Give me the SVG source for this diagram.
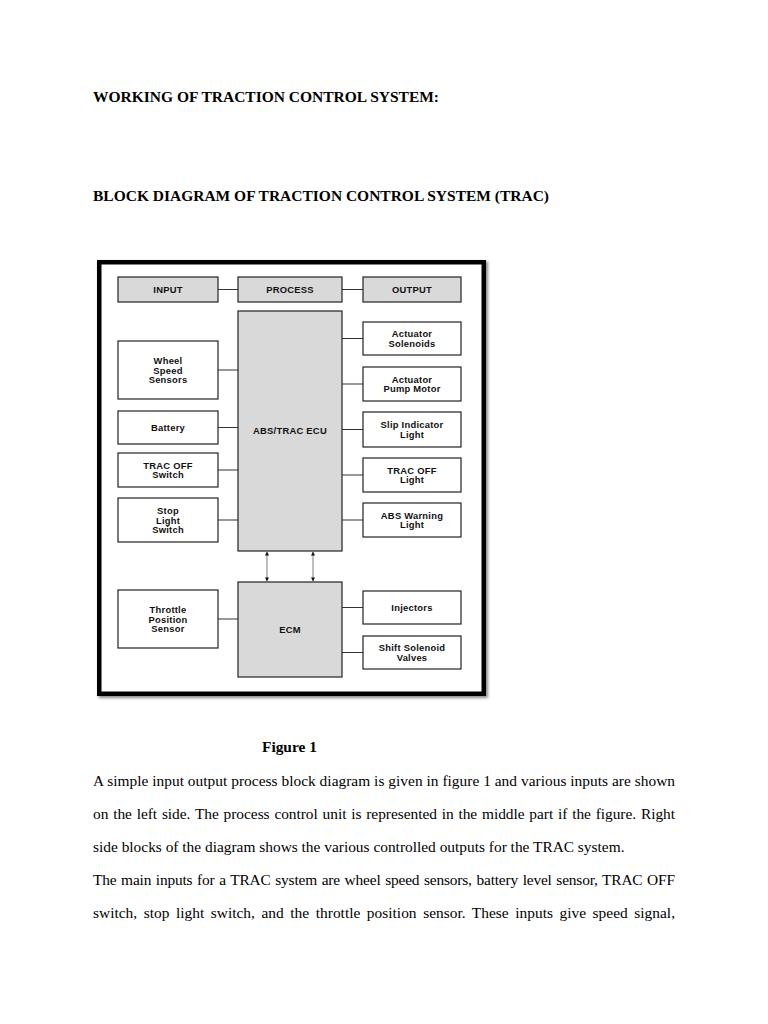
<svg xmlns="http://www.w3.org/2000/svg" width="768" height="1024" viewBox="0 0 768 1024">
<style>
  .page { font-family: "Liberation Serif", "Times New Roman", serif; font-size: 15.4px; fill: #000; }
  .bold { font-weight: bold; }
  .box { fill: #fff; stroke: #222; stroke-width: 1.2; }
  .gbox { fill: #d9d9d9; stroke: #222; stroke-width: 1.2; }
  .lbl { font-family: "Liberation Sans", Arial, sans-serif; font-size: 9.4px; letter-spacing: 0.25px; font-weight: bold; fill: #111; text-anchor: middle; }
  .conn { stroke: #333; stroke-width: 1.1; fill: none; }
  .arr { stroke: #888; stroke-width: 1.1; fill: none; marker-start: url(#ah); marker-end: url(#ah); }
</style>
<defs>
  <marker id="ah" viewBox="0 0 10 10" refX="9" refY="5" markerWidth="4" markerHeight="4" orient="auto-start-reverse" markerUnits="userSpaceOnUse">
    <path d="M0,0 L10,5 L0,10 z" fill="#111"/>
  </marker>
  <filter id="sh" x="-5%" y="-5%" width="110%" height="110%">
    <feGaussianBlur stdDeviation="1.5"/>
  </filter>
</defs>
<rect width="768" height="1024" fill="#fff"/>

<g id="headings" class="page bold">
  <text x="93" y="101.5" textLength="346" lengthAdjust="spacingAndGlyphs">WORKING OF TRACTION CONTROL SYSTEM:</text>
  <text x="93" y="201" textLength="456" lengthAdjust="spacingAndGlyphs">BLOCK DIAGRAM OF TRACTION CONTROL SYSTEM (TRAC)</text>
</g>

<g id="frame">
  <rect x="101" y="264" width="384.5" height="431.5" fill="none" stroke="#888" stroke-width="5" filter="url(#sh)"/>
  <rect x="99.25" y="262.25" width="384.5" height="431.5" fill="#fff" stroke="#000" stroke-width="4.5"/>
</g>

<g id="connectors">
  <path class="conn" d="M218 289.5H238M342 289.5H363"/>
  <path class="conn" d="M218 370H238M218 427.5H238M218 470H238M218 520H238M218 619H238"/>
  <path class="conn" d="M342 338.5H363M342 384H363M342 429.5H363M342 475H363M342 520H363M342 607.5H363M342 652.5H363"/>
  <path class="arr" d="M267 552V581"/>
  <path class="arr" d="M313 552V581"/>
</g>

<g id="input">
  <rect class="gbox" x="118" y="277" width="100" height="25"/>
  <text class="lbl" x="168" y="293">INPUT</text>
</g>
<g id="process">
  <rect class="gbox" x="238" y="277" width="104" height="25"/>
  <text class="lbl" x="290" y="293">PROCESS</text>
</g>
<g id="output">
  <rect class="gbox" x="363" y="277" width="98" height="25"/>
  <text class="lbl" x="412" y="293">OUTPUT</text>
</g>
<g id="abs-trac-ecu">
  <rect class="gbox" x="238" y="311" width="104" height="240"/>
  <text class="lbl" x="290" y="434">ABS/TRAC ECU</text>
</g>
<g id="ecm">
  <rect class="gbox" x="238" y="582" width="104" height="95"/>
  <text class="lbl" x="290" y="632.5">ECM</text>
</g>

<g id="wheel-speed-sensors">
  <rect class="box" x="118" y="341" width="100" height="58"/>
  <text class="lbl" x="168" y="364">Wheel</text>
  <text class="lbl" x="168" y="373.5">Speed</text>
  <text class="lbl" x="168" y="383">Sensors</text>
</g>
<g id="battery">
  <rect class="box" x="118" y="411" width="100" height="33"/>
  <text class="lbl" x="168" y="431">Battery</text>
</g>
<g id="trac-off-switch">
  <rect class="box" x="118" y="453" width="100" height="34"/>
  <text class="lbl" x="168" y="468.7">TRAC OFF</text>
  <text class="lbl" x="168" y="478.2">Switch</text>
</g>
<g id="stop-light-switch">
  <rect class="box" x="118" y="498" width="100" height="44"/>
  <text class="lbl" x="168" y="514">Stop</text>
  <text class="lbl" x="168" y="523.5">Light</text>
  <text class="lbl" x="168" y="533">Switch</text>
</g>
<g id="throttle-position-sensor">
  <rect class="box" x="118" y="590" width="100" height="58"/>
  <text class="lbl" x="168" y="613">Throttle</text>
  <text class="lbl" x="168" y="622.5">Position</text>
  <text class="lbl" x="168" y="632">Sensor</text>
</g>

<g id="actuator-solenoids">
  <rect class="box" x="363" y="322" width="98" height="33"/>
  <text class="lbl" x="412" y="337.2">Actuator</text>
  <text class="lbl" x="412" y="346.7">Solenoids</text>
</g>
<g id="actuator-pump-motor">
  <rect class="box" x="363" y="367" width="98" height="34"/>
  <text class="lbl" x="412" y="382.7">Actuator</text>
  <text class="lbl" x="412" y="392.2">Pump Motor</text>
</g>
<g id="slip-indicator-light">
  <rect class="box" x="363" y="412" width="98" height="35"/>
  <text class="lbl" x="412" y="428.2">Slip Indicator</text>
  <text class="lbl" x="412" y="437.7">Light</text>
</g>
<g id="trac-off-light">
  <rect class="box" x="363" y="458" width="98" height="34"/>
  <text class="lbl" x="412" y="473.7">TRAC OFF</text>
  <text class="lbl" x="412" y="483.2">Light</text>
</g>
<g id="abs-warning-light">
  <rect class="box" x="363" y="503" width="98" height="34"/>
  <text class="lbl" x="412" y="518.7">ABS Warning</text>
  <text class="lbl" x="412" y="528.2">Light</text>
</g>
<g id="injectors">
  <rect class="box" x="363" y="591" width="98" height="33"/>
  <text class="lbl" x="412" y="611">Injectors</text>
</g>
<g id="shift-solenoid-valves">
  <rect class="box" x="363" y="636" width="98" height="33"/>
  <text class="lbl" x="412" y="651.2">Shift Solenoid</text>
  <text class="lbl" x="412" y="660.7">Valves</text>
</g>

<g id="caption" class="page">
  <text class="bold" x="262" y="752">Figure 1</text>
  <text x="93" y="786" textLength="582" lengthAdjust="spacing">A simple input output process block diagram is given in figure 1 and various inputs are shown</text>
  <text x="93" y="819" textLength="582" lengthAdjust="spacing" word-spacing="1">on the left side. The process control unit is represented in the middle part if the figure. Right</text>
  <text x="93" y="852">side blocks of the diagram shows the various controlled outputs for the TRAC system.</text>
  <text x="93" y="885" textLength="582" lengthAdjust="spacing" word-spacing="1">The main inputs for a TRAC system are wheel speed sensors, battery level sensor, TRAC OFF</text>
  <text x="93" y="918" textLength="582" lengthAdjust="spacing" word-spacing="2.7">switch, stop light switch, and the throttle position sensor. These inputs give speed signal,</text>
</g>
</svg>
